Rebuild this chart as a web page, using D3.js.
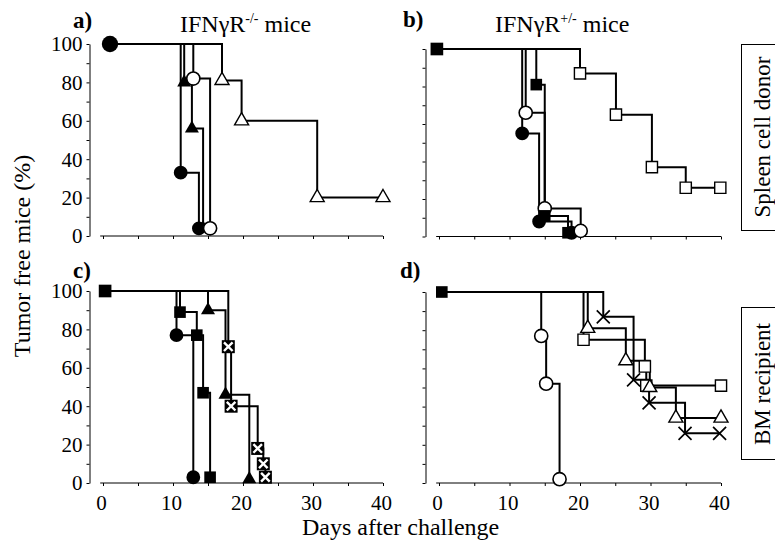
<!DOCTYPE html>
<html><head><meta charset="utf-8">
<script src="https://cdn.jsdelivr.net/npm/d3@7"></script>
<style>
body{margin:0;background:#fff}
svg{display:block}
text{font-family:"Liberation Serif","Times New Roman",serif;fill:#000}
</style>
</head><body>
<svg id="chart" width="775" height="541"></svg>
<script>
// ---------- tick values ----------
const xTickValues = [0,5,10,15,20,25,30,35,40];
const xTickLabels = [0,10,20,30,40];
const yTickValues = [0,10,20,30,40,50,60,70,80,90,100];
const yTickLabels = [0,20,40,60,80,100];

// ---------- data: [day, % tumor free] ----------
// panel a (IFNgR-/- mice, spleen cell donor)
const aFilledCircle   = [[1,100],[11.1,33],[13.7,4]];
const aFilledTriangle = [[1,100],[11.6,80],[12.7,56],[14.3,4]];
const aOpenCircle     = [[1,100],[12.9,82],[15.3,4]];
const aOpenTriangle   = [[1,100],[17,81],[19.8,60],[30.6,20],[40,20]];
// panel b (IFNgR+/- mice, spleen cell donor)
const bFilledCircle   = [[-0.3,100],[11.8,55],[14.2,8],[18.8,2]];
const bOpenCircle     = [[-0.3,100],[12.3,66],[15,15],[20.1,3]];
const bFilledSquare   = [[-0.3,100],[13.8,81],[15,11],[18.3,2]];
const bOpenSquare     = [[-0.3,100],[20,87],[25.1,65],[30.2,37],[35,26],[39.9,26]];
// panel c (IFNgR-/- mice, BM recipient)
const cFilledCircle   = [[0.3,100],[10.5,77],[12.9,3]];
const cFilledSquare   = [[0.3,100],[11,89],[13.4,77],[14.3,47],[15.3,3]];
const cFilledTriangle = [[0.3,100],[15,90],[17.5,46],[20.9,2]];
const cCrossedSquare  = [[0.3,100],[17.9,71],[18.3,40],[22.1,18],[22.9,10],[23.2,3]];
// panel d (IFNgR+/- mice, BM recipient)
const dOpenCircle     = [[0.4,100],[14.5,77],[15.2,52],[17.1,2]];
const dOpenSquare     = [[0.4,100],[20.5,75],[29.2,61],[29.4,51],[40,51]];
const dOpenTriangle   = [[0.4,100],[21.1,81],[26.5,64],[29.9,50],[33.6,34],[40,34]];
const dCross          = [[0.4,100],[23.3,87],[27.6,54],[29.8,42],[34.9,26],[39.8,26]];

// ---------- layout ----------
const panels = [
  {letter:"a)", lx:73, ly:28, xr:[103,383], yr:[236,44], xLab:false, yLab:true, start:"filledCircleBig",
   series:[{d:aFilledCircle,m:"filledCircle"},{d:aFilledTriangle,m:"filledTriangle"},{d:aOpenCircle,m:"openCircle"},{d:aOpenTriangle,m:"openTriangle"}]},
  {letter:"b)", lx:403, ly:27, xr:[439,721], yr:[236.5,49], xLab:false, yLab:false, start:"filledSquareBig",
   series:[{d:bFilledCircle,m:"filledCircle"},{d:bOpenCircle,m:"openCircle"},{d:bFilledSquare,m:"filledSquare"},{d:bOpenSquare,m:"openSquare"}]},
  {letter:"c)", lx:73, ly:278, xr:[103,383], yr:[483,291], xLab:true, yLab:true, start:"filledSquareBig",
   series:[{d:cFilledCircle,m:"filledCircle"},{d:cFilledSquare,m:"filledSquare"},{d:cFilledTriangle,m:"filledTriangle"},{d:cCrossedSquare,m:"crossedSquare"}]},
  {letter:"d)", lx:400, ly:278, xr:[439,721], yr:[483,292], xLab:true, yLab:false, start:"filledSquare",
   series:[{d:dOpenCircle,m:"openCircle"},{d:dOpenSquare,m:"openSquare"},{d:dOpenTriangle,m:"openTriangle"},{d:dCross,m:"cross"}]}
];

const svg = d3.select("#chart");

function drawMarker(g, type, cx, cy) {
  const t = `translate(${cx},${cy})`;
  const sym = (shape, size) => d3.symbol().type(shape).size(size)();
  switch (type) {
    case "filledCircle":
      g.append("path").attr("d", sym(d3.symbolCircle, 150)).attr("transform", t).attr("fill", "#000"); break;
    case "filledCircleBig":
      g.append("path").attr("d", sym(d3.symbolCircle, 210)).attr("transform", t).attr("fill", "#000"); break;
    case "openCircle":
      g.append("path").attr("d", sym(d3.symbolCircle, 135)).attr("transform", t).attr("fill", "#fff").attr("stroke", "#000").attr("stroke-width", 1.6); break;
    case "filledTriangle":
      g.append("path").attr("d", sym(d3.symbolTriangle, 85)).attr("transform", t).attr("fill", "#000"); break;
    case "openTriangle":
      g.append("path").attr("d", sym(d3.symbolTriangle, 85)).attr("transform", t).attr("fill", "#fff").attr("stroke", "#000").attr("stroke-width", 1.4); break;
    case "filledSquare":
      g.append("path").attr("d", sym(d3.symbolSquare, 135)).attr("transform", t).attr("fill", "#000"); break;
    case "filledSquareBig":
      g.append("path").attr("d", sym(d3.symbolSquare, 160)).attr("transform", t).attr("fill", "#000"); break;
    case "openSquare":
      g.append("path").attr("d", sym(d3.symbolSquare, 125)).attr("transform", t).attr("fill", "#fff").attr("stroke", "#000").attr("stroke-width", 1.4); break;
    case "crossedSquare": {
      const s = 6.5;
      g.append("rect").attr("x", cx - s).attr("y", cy - s).attr("width", 2*s).attr("height", 2*s).attr("fill", "#000");
      g.append("path").attr("d", `M${cx-s+2.2},${cy-s+2.2}L${cx+s-2.2},${cy+s-2.2}M${cx+s-2.2},${cy-s+2.2}L${cx-s+2.2},${cy+s-2.2}`)
        .attr("stroke", "#fff").attr("stroke-width", 2.4);
      break; }
    case "cross": {
      const s = 6.5;
      g.append("path").attr("d", `M${cx-s},${cy-s}L${cx+s},${cy+s}M${cx+s},${cy-s}L${cx-s},${cy+s}`)
        .attr("stroke", "#000").attr("stroke-width", 1.7).attr("fill", "none");
      break; }
  }
}

panels.forEach(p => {
  const x = d3.scaleLinear().domain([0, 40]).range(p.xr);
  const y = d3.scaleLinear().domain([0, 100]).range(p.yr);
  const g = svg.append("g");
  const yAxisX = x(0) - 13.5;

  // y axis
  const ya = g.append("g").attr("transform", `translate(${yAxisX},0)`)
    .call(d3.axisLeft(y).tickValues(yTickValues).tickSize(3).tickSizeOuter(0).tickPadding(4)
      .tickFormat(d => p.yLab && yTickLabels.includes(d) ? d : ""));
  ya.selectAll("text").style("font-size", "21px").attr("dy", "0.33em");

  // x axis
  const xa = g.append("g").attr("transform", `translate(0,${y(0)})`)
    .call(d3.axisBottom(x).tickValues(xTickValues).tickSize(3).tickSizeOuter(0).tickPadding(9)
      .tickFormat(d => p.xLab && xTickLabels.includes(d) ? d : ""));
  xa.select(".domain").attr("d", `M${x(-0.4)},0H${x(40)}`);
  xa.selectAll("text").style("font-size", "21px").attr("dx", "-2");
  g.selectAll(".domain, .tick line").attr("stroke", "#000").attr("stroke-width", 1);

  // survival step lines
  const line = d3.line().x(d => x(d[0])).y(d => y(d[1])).curve(d3.curveStepAfter);
  p.series.forEach(s => {
    g.append("path").attr("d", line(s.d)).attr("fill", "none").attr("stroke", "#000").attr("stroke-width", 2);
  });
  // markers
  p.series.forEach(s => {
    s.d.slice(1).forEach(d => drawMarker(g, s.m, x(d[0]), y(d[1])));
  });
  const s0 = p.series[0].d[0];
  drawMarker(g, p.start, x(s0[0]), y(s0[1]));

  // panel letter
  svg.append("text").attr("x", p.lx).attr("y", p.ly).style("font-size", "23px").style("font-weight", "bold").text(p.letter);
});

// titles
function title(xp, sup) {
  const t = svg.append("text").attr("x", xp).attr("y", 32).style("font-size", "24px");
  t.append("tspan").text("IFNγR");
  t.append("tspan").attr("dy", -9).style("font-size", "14px").text(sup);
  t.append("tspan").attr("dy", 9).text(" mice");
}
title(180, "-/-");
title(495, "+/-");

// axis titles
svg.append("text").attr("transform", "translate(30,256) rotate(-90)").attr("text-anchor", "middle")
  .style("font-size", "24px").text("Tumor free mice (%)");
svg.append("text").attr("x", 302).attr("y", 535).style("font-size", "24px").text("Days after challenge");

// side boxes
svg.append("rect").attr("x", 741.5).attr("y", 44.5).attr("width", 40).attr("height", 186).attr("fill", "none").attr("stroke", "#000");
svg.append("text").attr("transform", "translate(770,137) rotate(-90)").attr("text-anchor", "middle")
  .style("font-size", "23px").text("Spleen cell donor");
svg.append("rect").attr("x", 741.5).attr("y", 307.5).attr("width", 40).attr("height", 152).attr("fill", "none").attr("stroke", "#000");
svg.append("text").attr("transform", "translate(770,384) rotate(-90)").attr("text-anchor", "middle")
  .style("font-size", "23px").text("BM recipient");
</script>
</body></html>
